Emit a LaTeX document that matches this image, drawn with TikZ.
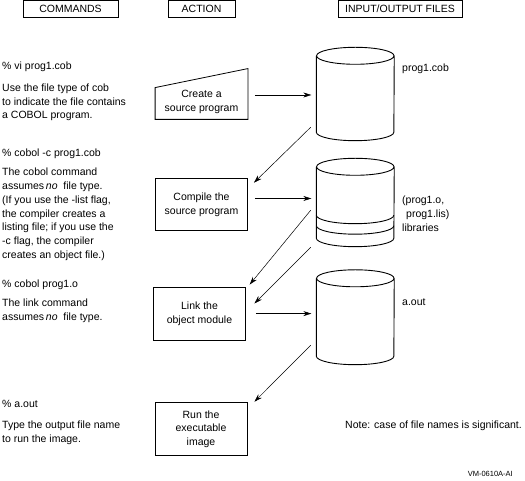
\documentclass[tikz,border=0pt]{standalone}
\usepackage{fontspec}
\setmainfont{Liberation Sans}
\usetikzlibrary{arrows.meta}

\begin{document}
\begin{tikzpicture}[x=1pt,y=1pt,font=\fontsize{10.5}{13.7}\selectfont,
  hdr/.style={draw,line width=0.8pt,minimum height=16.8pt,inner sep=0pt},
  act/.style={draw,line width=0.8pt,minimum width=92pt,minimum height=52.7pt,align=center,inner sep=0pt},
  drum/.style={minimum width=77.5pt,inner sep=0pt},
  txt/.style={anchor=base west,align=left,inner sep=0pt},
  arr/.style={-{Stealth[length=8pt,width=5pt]},line width=0.5pt,shorten <=7pt,shorten >=5pt}]
\useasboundingbox (0,0) rectangle (525,481);

\node[hdr,minimum width=95pt] (hcmd) at (70.5,472.1) {COMMANDS};
\node[hdr,minimum width=67pt] (hact) at (201.5,472.1) {ACTION};
\node[hdr,minimum width=124pt] (hfiles) at (400,472.1) {INPUT/OUTPUT FILES};

% multi-line texts sit on the baseline of their last line
\node[txt] (cmdvi) at (2,411) {\% vi prog1.cob};
\node[txt] (txtvi) at (2,362.1) {Use the file type of cob\\to indicate the file contains\\a COBOL program.};
\node[txt] (cmdcc) at (2,324) {\% cobol -c prog1.cob};
\node[txt] (txtcc) at (2,291.8) {The cobol command\\assumes\,\textit{no}~~file type.};
\node[txt] (txtflag) at (2,222.7) {(If you use the -list flag,\\the compiler creates a\\listing file; if you use the\\-c flag, the compiler\\creates an object file.)};
\node[txt] (cmdld) at (2,193) {\% cobol prog1.o};
\node[txt] (txtld) at (2,160.8) {The link command\\assumes\,\textit{no}~~file type.};
\node[txt] (cmdrun) at (2,73) {\% a.out};
\node[txt] (txtrun) at (2,38.8) {Type the output file name\\to run the image.};

\node[act,draw=none,minimum height=34pt] (create) at (201.5,379) {Create a\\source program};
\draw[line width=0.8pt] (create.south west) -- ([yshift=-3pt]create.north west)
  -- ([yshift=16pt]create.north east) -- (create.south east) -- cycle;
\node[act] (compile) at (201.5,276.5) {Compile the\\source program};
\node[act] (link) at (199.5,167.4) {Link the\\object module};
\node[act] (run) at (201,51.9) {Run the\\executable\\image};

\node[drum,minimum height=93pt] (cob) at (355.3,387) {};
\node[drum,minimum height=88pt] (obj) at (355.3,278.5) {};
\node[drum,minimum height=94.5pt] (aout) at (355.3,163.75) {};
\foreach \n in {cob,obj,aout}
  \draw[line width=0.9pt] ([yshift=-8.5pt]\n.north) ellipse (38.75pt and 8.5pt)
    ([yshift=-8.5pt]\n.north west) -- ([yshift=8.5pt]\n.south west)
    arc[start angle=180,end angle=360,x radius=38.75pt,y radius=8.5pt]
    -- ([yshift=-8.5pt]\n.north east);
\foreach \h in {21,31.5}
  \draw[line width=0.9pt] ([yshift=\h pt]obj.south west)
    arc[start angle=180,end angle=360,x radius=38.75pt,y radius=8.5pt];

\node[txt] (lcob) at (402,409) {prog1.cob};
\node[txt] (lobj) at (402,263.3) {(prog1.o,\\\hspace*{4pt}prog1.lis)};
\node[txt] (llib) at (402,249) {libraries};
\node[txt] (laout) at (402,175) {a.out};
\node[txt] (note) at (345,52.5) {Note: case of file names is significant.};
\node[anchor=base east,inner sep=0pt,font=\fontsize{7.5}{9}\selectfont] (figno) at (513,4) {VM-0610A-AI};

\draw[arr] ([yshift=7pt]create.east) -- ([yshift=7pt]create.east -| cob.west);
\draw[arr] ([yshift=6pt]compile.east) -- ([yshift=6pt]compile.east -| obj.west);
\draw[arr,shorten <=10pt] (link.east) -- (link.east -| aout.west);

\draw[arr,shorten <=0pt,shorten >=0pt] ([xshift=-5.6pt,yshift=13.5pt]cob.south west) -- ([xshift=6pt,yshift=-5pt]compile.north east);
\draw[arr,shorten <=0pt,shorten >=0pt] ([xshift=-5.6pt,yshift=36.5pt]obj.south west) -- ([xshift=3.8pt,yshift=2.3pt]link.north east);
\draw[arr,shorten <=0pt,shorten >=0pt] ([xshift=-5.6pt,yshift=-0.5pt]obj.south west) -- ([xshift=8.5pt,yshift=-16.7pt]link.north east);
\draw[arr,shorten <=0pt,shorten >=0pt] ([xshift=-5.6pt,yshift=19.5pt]aout.south west) -- ([xshift=7pt,yshift=0.6pt]run.north east);
\end{tikzpicture}
\end{document}
